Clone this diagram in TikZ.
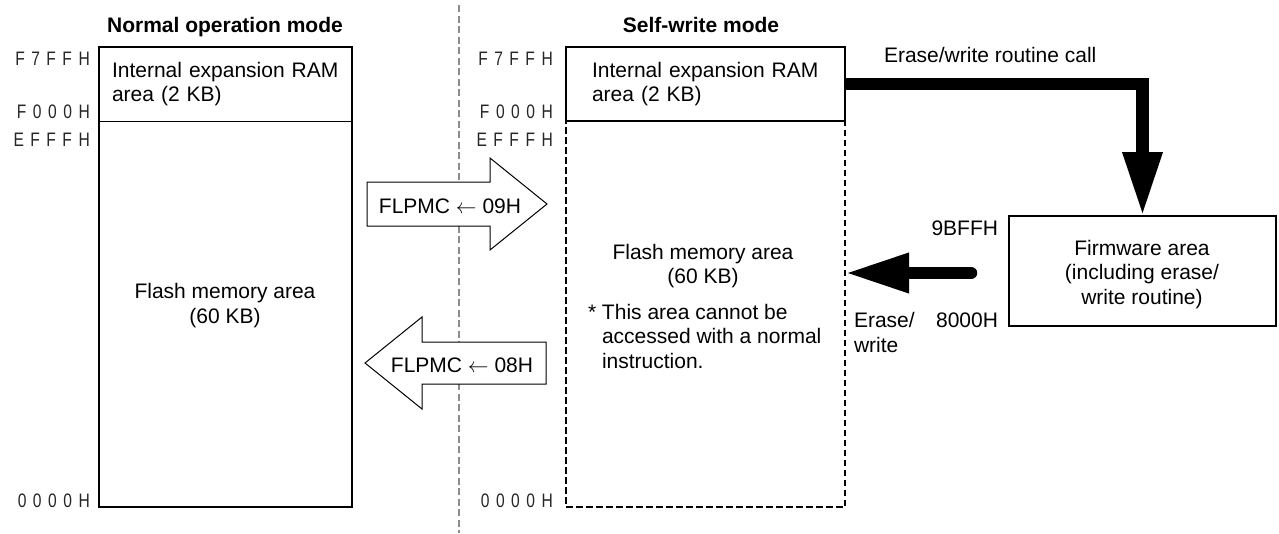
\documentclass[tikz,border=0pt]{standalone}
\usepackage{fontspec}
\setmainfont{Liberation Sans}
\newfontfamily\addrfont[FakeStretch=0.8]{Liberation Sans}
\usetikzlibrary{arrows.meta}
\newcommand\gp{\hspace{6.5pt}}
\begin{document}
\begin{tikzpicture}[x=1pt,y=-1pt,
  lbl/.style={font=\fontsize{21}{24.5}\selectfont, inner sep=0pt, outer sep=0pt},
  ttl/.style={inner sep=0pt, outer sep=0pt, font=\bfseries\fontsize{21}{24.5}\selectfont},
  addr/.style={font=\addrfont\fontsize{19.5}{20}\selectfont, text=black!85, inner sep=0pt, anchor=base east},
  area/.style 2 args={minimum width=#1, minimum height=#2, anchor=north west, inner sep=0pt, outer sep=0pt},
  solidbox/.style={draw, line width=2.2pt},
  dashbox/.style={draw, line width=2.8pt, dash pattern=on 6.5pt off 3.5pt},
  modeline/.style={draw=black!45, line width=1.6pt, dash pattern=on 7pt off 3.5pt},
  fat/.style={line width=12.5pt, -{Triangle[width=37pt,length=64pt]}},
  flow/.style={draw, fill=white, line width=1pt, line join=miter}
]
\useasboundingbox (0,0) rectangle (1279,533);

% ---- divider between the two modes ----
\draw[modeline] (459,5) -- (459,533);

% ---- normal operation mode ----
\node[ttl, anchor=base] (hnorm) at (225,32) {Normal operation mode};
\node[area={253pt}{74pt}, lbl, align=left, text width=227pt] (ram1) at (99,47)
  {Internal expansion RAM\\area (2 KB)};
\node[area={253pt}{386pt}] (fl1) at (99,121) {};
\draw[line width=2.2pt] (ram1.north west) rectangle (fl1.south east);
\draw[line width=0.9pt] (ram1.south west) -- (ram1.south east);
\node[lbl, anchor=base, align=center] (fl1txt) at (225,323) {Flash memory area\\(60 KB)};

\node[addr] (na1) at (90,65)  {F\gp 7\gp F\gp F\gp H};
\node[addr] (na2) at (90,118) {F\gp 0\gp 0\gp 0\gp H};
\node[addr] (na3) at (90,146) {E\gp F\gp F\gp F\gp H};
\node[addr] (na4) at (90,507) {0\gp 0\gp 0\gp 0\gp H};

% ---- self-write mode ----
\node[ttl, anchor=base] (hself) at (701,32) {Self-write mode};
\node[area={279pt}{386pt}, dashbox] (fl2) at (566,121) {};
\node[area={279pt}{74pt}, solidbox, fill=white, lbl, align=left, text width=227pt] (ram2) at (566,47)
  {Internal expansion RAM\\area (2 KB)};
\node[lbl, anchor=base, align=center] (fl2txt) at (703,283.5) {Flash memory area\\(60 KB)};
\node[lbl, anchor=base west] (note) at (588,319)
  {\begin{tabular}[t]{@{}l@{\ }l@{}}*&This area cannot be\\&accessed with a normal\\&instruction.\end{tabular}};

\node[addr] (sa1) at (553,65)  {F\gp 7\gp F\gp F\gp H};
\node[addr] (sa2) at (553,118) {F\gp 0\gp 0\gp 0\gp H};
\node[addr] (sa3) at (553,146) {E\gp F\gp F\gp F\gp H};
\node[addr] (sa4) at (553,507) {0\gp 0\gp 0\gp 0\gp H};

% ---- firmware ----
\node[area={267pt}{110pt}, solidbox] (fw) at (1009,216) {};
\node[lbl, anchor=base, align=center] (fwtxt) at (1142,304)
  {Firmware area\\(including erase/\\write routine)};
\node[lbl, anchor=base east] (fwtop) at (998,235) {9BFFH};
\node[lbl, anchor=base east] (fwbot) at (998,327) {8000H};

% ---- routine call and erase/write arrows ----
\draw[fat] (ram2.east) -| (fw.north);
\node[lbl, anchor=base west] (calltxt) at (884,62) {Erase/write routine call};
\coordinate (ewtail) at (971,273);
\draw[fat, line cap=round] (ewtail) -- (ewtail -| fl2.east);
\node[lbl, anchor=base west, align=left] (ewtxt) at (854,352) {Erase/\\write};

% ---- mode switching ----
\draw[flow] (367,182) -- (490,182) -- (490,158) -- (547,204) -- (490,250) -- (490,226) -- (367,226) -- cycle;
\node[lbl, anchor=base] (m09) at (450,213) {FLPMC $\leftarrow$ 09H};
\draw[flow] (546,342) -- (422,342) -- (422,317) -- (365,363) -- (422,409) -- (422,384) -- (546,384) -- cycle;
\node[lbl, anchor=base] (m08) at (462,372) {FLPMC $\leftarrow$ 08H};
\end{tikzpicture}
\end{document}
